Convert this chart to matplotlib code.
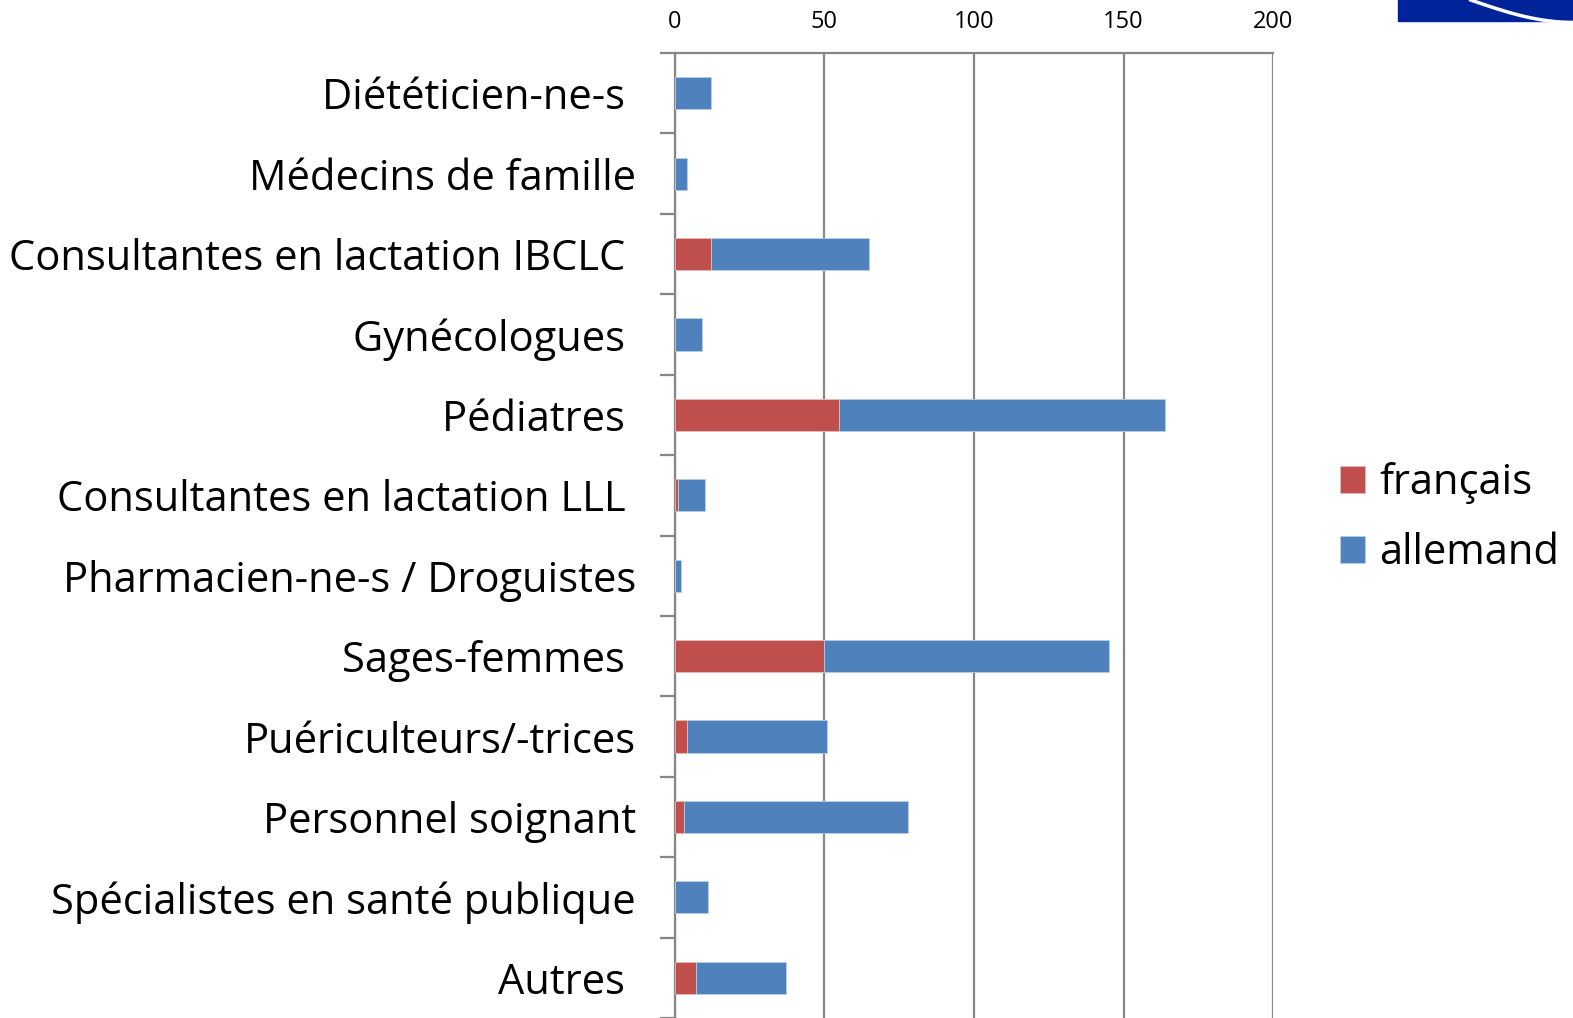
import numpy as np
import matplotlib.pyplot as plt
from matplotlib.patches import Rectangle

categories = ['Diététicien-ne-s ', 'Médecins de famille', 'Consultantes en lactation IBCLC ',
              'Gynécologues ', 'Pédiatres ', 'Consultantes en lactation LLL ',
              'Pharmacien-ne-s / Droguistes', 'Sages-femmes ', 'Puériculteurs/-trices',
              'Personnel soignant', 'Spécialistes en santé publique', 'Autres ']
francais = [0, 0, 12, 0, 55, 1, 0, 50, 4, 3, 0, 7]
allemand = [12, 4, 53, 9, 109, 9, 2, 95, 47, 75, 11, 30]
x_ticks = [0, 50, 100, 150, 200]

plt.rcParams['font.family'] = ['Open Sans', 'DejaVu Sans']

fig = plt.figure(figsize=(15.73, 10.18), dpi=100)
ax = fig.add_axes([0.4291, 0.0, 0.3802, 0.9479])

y = np.arange(len(categories))
ax.barh(y, francais, height=0.4, color='#C0504D', edgecolor='#E6B9B8', linewidth=0.6,
        label='français', zorder=3)
ax.barh(y, allemand, left=francais, height=0.4, color='#4F81BD', edgecolor='#B9CDE5',
        linewidth=0.6, label='allemand', zorder=3)

ax.set_xlim(0, 200)
ax.set_ylim(len(categories) - 0.5, -0.5)
ax.xaxis.tick_top()
ax.set_xticks(x_ticks)
ax.set_xticklabels([str(v) for v in x_ticks], fontsize=17)
ax.tick_params(axis='x', length=0, pad=14)
ax.grid(axis='x', color='#868686', linewidth=1.6, zorder=0)

ax.set_yticks(y)
ax.set_yticklabels(categories, fontsize=30)
ax.set_yticks(np.arange(-0.5, len(categories), 1), minor=True)
ax.tick_params(axis='y', which='major', length=0, pad=28)
ax.tick_params(axis='y', which='minor', length=11, width=1.6, color='#868686')

for side in ['right', 'bottom']:
    ax.spines[side].set_visible(False)
for side in ['left', 'top']:
    ax.spines[side].set_color('#868686')
    ax.spines[side].set_linewidth(1.6)

ax.legend(loc='center left', bbox_to_anchor=(1.049, 0.518), frameon=False, fontsize=30,
          handlelength=0.6, handleheight=0.6, handletextpad=0.35, labelspacing=0.68)

# fragment du logo en haut à droite
fig.patches.append(Rectangle((0.889, 0.979), 0.12, 0.03, transform=fig.transFigure,
                             color='#00239A', zorder=5))
t = np.linspace(0, 1, 50)
fig.lines.append(plt.Line2D(0.935 + 0.065 * t, 1.0 - 0.022 * np.sin(t * np.pi / 2),
                            transform=fig.transFigure, color='white', linewidth=2.5, zorder=6))

fig.savefig('out.png', dpi=100)
